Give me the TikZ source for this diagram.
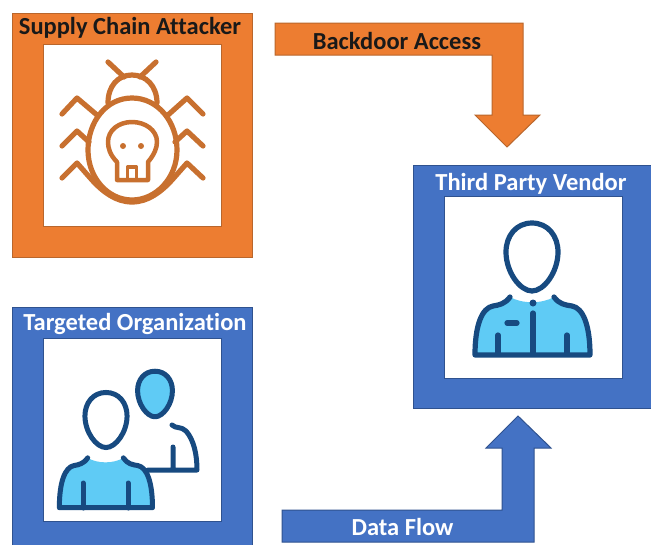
\documentclass[tikz,border=0pt]{standalone}
\usepackage{fontspec}
\setmainfont{Carlito}[Ligatures=NoCommon]
\definecolor{vendorblue}{HTML}{4472C4}
\definecolor{blueedge}{HTML}{2F528F}
\definecolor{attackorange}{HTML}{ED7D31}
\definecolor{orangeedge}{HTML}{B9662C}
\definecolor{bugline}{HTML}{C8702F}
\definecolor{personline}{HTML}{174A80}
\definecolor{personfill}{HTML}{5FCBF5}

\begin{document}
\begin{tikzpicture}[x=1pt,y=-1pt,
  bluebox/.style={draw=blueedge, fill=vendorblue, line width=1pt, minimum width=240pt, inner sep=0pt},
  orangebox/.style={draw=orangeedge, fill=attackorange, line width=1pt, minimum width=240pt, inner sep=0pt},
  imgbox/.style={draw=#1, fill=white, line width=1pt, minimum width=178pt, inner sep=0pt},
  blacktitle/.style={font=\fontsize{24.5}{28}\selectfont\bfseries, text=black!90, inner sep=0pt},
  whitetitle/.style={font=\fontsize{24.5}{28}\selectfont\bfseries, text=white, inner sep=0pt},
  bugstroke/.style={draw=bugline, line width=5.2pt, line cap=round, line join=round},
  personstroke/.style={draw=personline, line cap=round, line join=round},
  personbody/.pic={
    \fill[personfill] (-22,-6) .. controls (-10,1) and (10,1) .. (22,-6) .. controls (27,1) and (33,2) .. (40,3)
      .. controls (51,5) and (58,22) .. (58,52) -- (-57,52) .. controls (-57,22) and (-50,5) .. (-39,3)
      .. controls (-33,2) and (-27,1) .. (-22,-6) -- cycle;
    \draw[personstroke] (-22,-6) .. controls (-27,1) and (-33,2) .. (-39,3) .. controls (-50,5) and (-57,22) .. (-57,52)
      -- (58,52) .. controls (58,22) and (51,5) .. (40,3) .. controls (33,2) and (27,1) .. (22,-6);
  },
  personhead/.pic={
    \path[pic actions, personstroke] (0,-34) .. controls (-16,-34) and (-26,-21) .. (-26,-5) .. controls (-26,15) and (-12,34) .. (0,34)
      .. controls (12,34) and (26,15) .. (26,-5) .. controls (26,-21) and (16,-34) .. (0,-34) -- cycle;
  },
]
  \useasboundingbox (0,0) rectangle (651,544);
  \clip (0,0) rectangle (651,544);
  \fill[white] (0,0) rectangle (651,544);

  % boxes
  \node[orangebox, minimum height=244pt] (attacker) at (132,135) {};
  \node[imgbox=orangeedge, minimum height=182pt] (attackerimg) at (attacker) {};
  \node[bluebox, minimum height=245pt] (target) at (132,429.5) {};
  \node[imgbox=blueedge, minimum height=183pt] (targetimg) at (target) {};
  \node[bluebox, minimum height=243pt] (vendor) at (533,287) {};
  \node[imgbox=blueedge, minimum height=182pt] (vendorimg) at (vendor) {};

  \node[blacktitle] (attackertitle) at (130,28) {Supply Chain Attacker};
  \node[whitetitle] (targettitle) at (135,324) {Targeted Organization};
  \node[whitetitle] (vendortitle) at (531,184) {Third Party Vendor};

  % bent arrows
  \draw[draw=orangeedge, fill=attackorange, line width=1pt] (275,23) -- (523,23) -- (523,115) -- (540,115) -- (507,147)
    -- (475,115) -- (492,115) -- (492,55) -- (275,55) -- cycle;
  \draw[draw=blueedge, fill=vendorblue, line width=1pt] (282,542) -- (534,542) -- (534,448) -- (551,448) -- (518,416)
    -- (486,448) -- (502,448) -- (502,510) -- (282,510) -- cycle;
  \node[blacktitle] (backdoor) at (397,41) {Backdoor Access};
  \node[whitetitle] (dataflow) at (402.5,527) {Data Flow};

  % bug
  \draw[bugstroke] (132,98) .. controls (106,98) and (88,122) .. (88,150) .. controls (88,178) and (108,200) .. (132,200)
    .. controls (156,200) and (177,178) .. (177,150) .. controls (177,122) and (158,98) .. (132,98) -- cycle;
  \draw[bugstroke] (108,103) .. controls (108,86) and (118,75) .. (132,75) .. controls (146,75) and (157,86) .. (157,103);
  \draw[bugstroke] (124,77) -- (108,62) (140,77) -- (156,62);
  \draw[bugstroke] (97,115) -- (77,98) -- (62,114) (168,115) -- (187,98) -- (203,114);
  \draw[bugstroke] (89,142) -- (77,131) -- (62,146) (175,142) -- (187,131) -- (203,146);
  \draw[bugstroke] (62,178) -- (77,163) -- (92,180) .. controls (103,192) and (116,202) .. (132,202)
    .. controls (148,202) and (161,192) .. (172,180) -- (187,163) -- (203,178);
  % skull
  \draw[bugstroke, line width=4.5pt] (117,162) .. controls (110,155) and (108,148) .. (108,142) .. controls (108,130) and (119,122) .. (132,122)
    .. controls (145,122) and (157,130) .. (157,142) .. controls (157,148) and (154,155) .. (148,162)
    -- (148,180) -- (117,180) -- cycle;
  \draw[bugstroke, line width=3.5pt] (127.5,180) -- (127.5,167) -- (136.5,167) -- (136.5,180);
  \fill[bugline] (123,146) circle (3) (141,146) circle (3);

  % vendor person
  \pic[line width=5.2pt] (vendorbody) at (532,303) {personbody};
  \pic[line width=5.2pt] (vendorhead) at (532,257) {personhead};
  \draw[personstroke, line width=5.2pt] (533,313) -- (533,353) (498,335) -- (498,353) (567,335) -- (567,353) (507,323) -- (517,323);
  \fill[personline] (533,303) circle (3.5);

  % target people
  \pic[line width=5pt, fill=personfill, scale=.67] (backhead) at (155,394) {personhead};
  \draw[personstroke, line width=5pt] (172,425) .. controls (176,429) and (181,426) .. (186,431) .. controls (194,440) and (197,455) .. (197,470)
    -- (148,470) (173,447) -- (173,470);
  \pic[line width=5pt, xscale=.81, yscale=.86] (frontbody) at (105.5,463) {personbody};
  \pic[line width=5pt, scale=.81] (fronthead) at (106,420) {personhead};
  \draw[personstroke, line width=5pt] (83,483) -- (83,508) (128,483) -- (128,508);
\end{tikzpicture}
\end{document}
